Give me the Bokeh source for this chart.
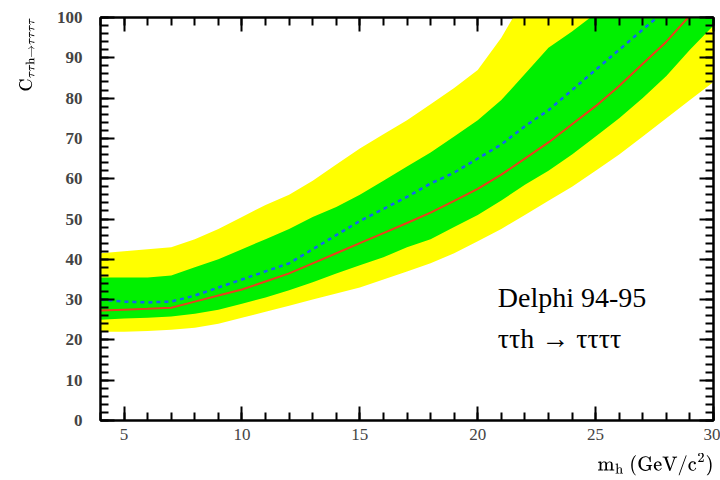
from bokeh.plotting import figure
from bokeh.models import Range1d, LinearAxis, FixedTicker, Label
from bokeh.embed import file_html
from bokeh.resources import INLINE

# Higgs mass (GeV/c^2)
mh = [4, 5, 6, 7, 8, 9, 10, 11, 12, 13, 14, 15, 16, 17, 18, 19, 20, 21, 22, 23, 24, 25, 26, 27, 28, 29, 30]

# expected limit (median) and observed limit
median = [27.3, 27.5, 27.7, 28.0, 29.5, 31.0, 32.5, 34.5, 36.5, 39.0, 41.5, 44.0, 46.5, 49.0, 51.6, 54.5,
          57.5, 61.0, 65.0, 69.0, 73.5, 78.0, 83.0, 88.5, 94.0, 100.5, 107.0]
observed = [30.0, 29.5, 29.3, 29.5, 31.0, 33.0, 35.0, 37.0, 39.0, 42.5, 46.0, 49.5, 52.5, 55.5, 58.8, 61.5,
            65.0, 68.5, 73.0, 77.0, 82.0, 87.0, 92.0, 97.0, 102.0, 107.0, 112.0]

# 1 sigma band
sig1_lo = [25.0, 25.3, 25.5, 25.8, 26.5, 27.5, 29.0, 30.5, 32.3, 34.3, 36.5, 38.5, 40.5, 43.0, 45.0, 48.0,
           51.0, 54.6, 58.5, 62.0, 66.0, 70.5, 75.0, 80.0, 85.5, 92.0, 98.0]
sig1_hi = [35.5, 35.5, 35.5, 36.0, 38.0, 40.0, 42.5, 45.0, 47.5, 50.5, 53.0, 56.0, 59.5, 63.0, 66.5, 70.5,
           74.5, 79.5, 86.0, 92.5, 96.5, 101.0, 106.0, 111.0, 116.0, 121.0, 126.0]

# 2 sigma band
sig2_lo = [22.0, 22.0, 22.2, 22.5, 23.0, 24.0, 25.5, 27.0, 28.5, 30.0, 31.5, 33.0, 35.0, 37.0, 39.0, 41.5,
           44.5, 47.5, 51.0, 54.5, 58.0, 62.0, 66.0, 70.5, 75.0, 79.5, 84.0]
sig2_hi = [41.5, 42.0, 42.5, 43.0, 45.0, 47.5, 50.5, 53.5, 56.0, 59.5, 63.5, 67.5, 71.0, 74.5, 78.5, 82.5,
           87.0, 95.0, 105.0, 113.0, 121.0, 129.0, 137.0, 145.0, 153.0, 161.0, 169.0]

x_major = [5, 10, 15, 20, 25, 30]
x_minor = list(range(4, 31))
y_major = list(range(0, 101, 10))
y_minor = list(range(0, 101, 2))

x_tex = r"\mathrm{m}_{\mathrm{h}}\ (\mathrm{GeV}/\mathrm{c}^{2})"
y_tex = r"\mathrm{C}_{\tau\tau\mathrm{h}\rightarrow\tau\tau\tau\tau}"


def flush_end(tex):
    # the label is centred on the axis end, so a phantom copy shifts it inward
    return "$$" + tex + r"\phantom{" + tex + "}$$"


SERIF = "Liberation Serif"

p = figure(width=720, height=480, x_range=Range1d(4, 30), y_range=Range1d(0, 100),
           output_backend="svg", toolbar_location=None,
           min_border_left=100, min_border_right=7, min_border_top=17, min_border_bottom=60)
p.xaxis.visible = False
p.yaxis.visible = False
p.grid.visible = False
p.background_fill_color = "white"
p.border_fill_color = "white"
p.outline_line_color = "black"
p.outline_line_width = 2

p.varea(x=mh, y1=sig2_lo, y2=sig2_hi, fill_color="#FFFF00")
p.varea(x=mh, y1=sig1_lo, y2=sig1_hi, fill_color="#00F000")
p.line(mh, median, line_color="#E8401C", line_width=2)
p.line(mh, observed, line_color="#1464F0", line_width=2.5, line_dash="4 4")


def style_axis(ax, ticks, minor, labels):
    ax.ticker = FixedTicker(ticks=ticks, minor_ticks=minor)
    ax.axis_line_color = "black"
    ax.axis_line_width = 2
    ax.major_tick_line_color = "black"
    ax.major_tick_line_width = 2
    ax.minor_tick_line_color = "black"
    ax.minor_tick_line_width = 2
    ax.major_tick_in = 14
    ax.major_tick_out = 0
    ax.minor_tick_in = 8
    ax.minor_tick_out = 0
    if not labels:
        # mirrored axis: ticks only
        ax.major_label_overrides = {t: "" for t in ticks}
        ax.major_label_standoff = 0


xb = LinearAxis()
style_axis(xb, x_major, x_minor, True)
xb.major_label_text_font = SERIF
xb.major_label_text_font_size = "17px"
xb.major_label_standoff = 8
xb.axis_label = flush_end(x_tex)
xb.axis_label_align = "end"
xb.axis_label_standoff = 10
xb.axis_label_text_font_size = "16px"
xb.axis_label_text_color = "black"
p.add_layout(xb, "below")

yl = LinearAxis()
style_axis(yl, y_major, y_minor, True)
yl.major_label_text_font = SERIF
yl.major_label_text_font_size = "17px"
yl.major_label_text_font_style = "bold"
yl.major_label_standoff = 18
yl.axis_label = flush_end(y_tex)
yl.axis_label_align = "end"
yl.axis_label_standoff = 18
yl.axis_label_text_font_size = "15px"
yl.axis_label_text_color = "black"
p.add_layout(yl, "left")

xt = LinearAxis()
style_axis(xt, x_major, x_minor, False)
p.add_layout(xt, "above")

yr = LinearAxis()
style_axis(yr, y_major, y_minor, False)
p.add_layout(yr, "right")

# annotation inside the frame
p.add_layout(Label(x=20.85, y=30.5, text="Delphi 94-95", text_font=SERIF,
                   text_font_size="28px", text_color="black", text_baseline="alphabetic"))
p.add_layout(Label(x=20.85, y=20.3, text="ττh → ττττ", text_font=SERIF,
                   text_font_size="28px", text_color="black", text_baseline="alphabetic"))

open("out.html", "w").write(file_html(p, INLINE))
